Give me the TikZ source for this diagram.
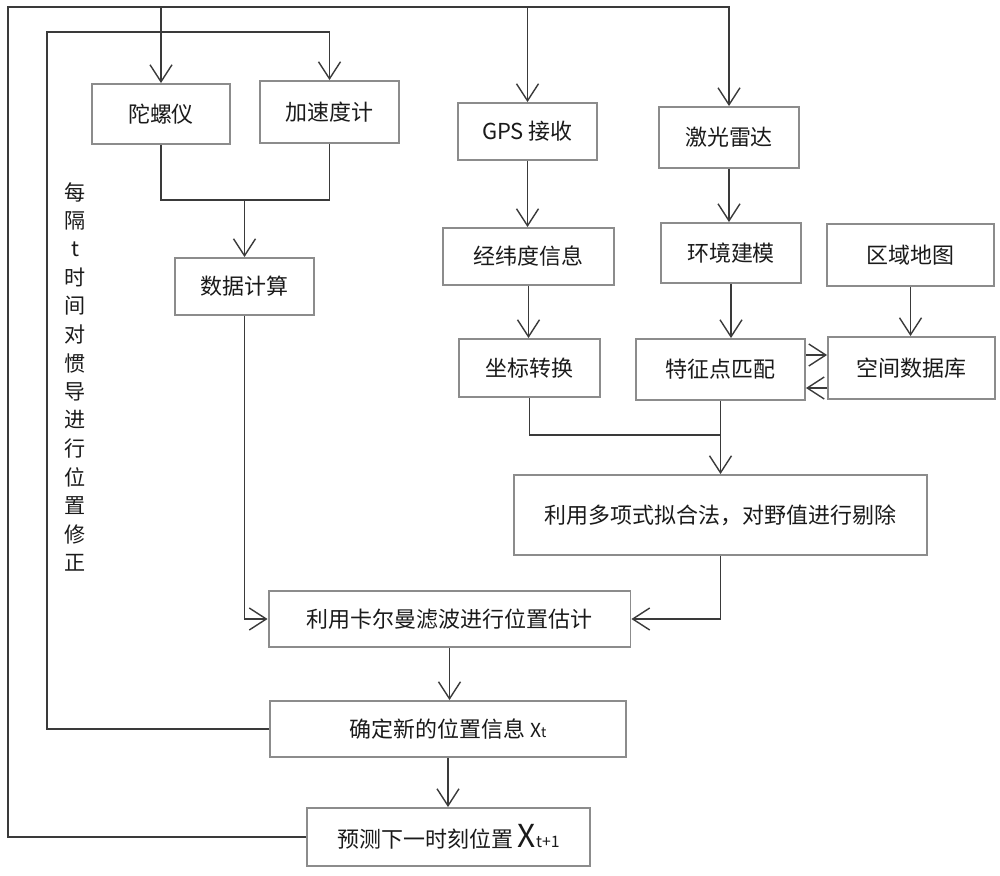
\documentclass[tikz,border=0pt]{standalone}
\usepackage{fontspec}
\setmainfont{Noto Sans CJK SC}
\usepackage{xcolor}
\definecolor{boxGray}{HTML}{8C8C8C}
\definecolor{lineDark}{HTML}{3A3A3A}
\definecolor{textDark}{HTML}{1A1A1A}
\usepackage{tikz}
\usetikzlibrary{arrows.meta}
\tikzset{
    box/.style={
        draw=boxGray,
        fill=white,
        rectangle,
        line width=1.1pt,
        align=center,
        inner sep=2pt,
        text=textDark,
        font=\fontsize{12.5}{15}\selectfont
    },
    line/.style={
        draw=lineDark,
        line width=0.8pt
    },
    arrow/.style={
        line,
        -{Straight Barb[length=0.34cm,width=0.44cm]}
    },
    vtext/.style={
        text=textDark,
        inner sep=0pt,
        font=\fontsize{12}{14}\selectfont
    }
}

\begin{document}
\begin{tikzpicture}[x=0.02cm, y=-0.02cm]
    \useasboundingbox (0,0) rectangle (1000,875);

    % Inertial sensors
    \node[box, minimum width=2.76cm, minimum height=1.20cm] (gyro) at (161,114) {陀螺仪};
    \node[box, minimum width=2.78cm, minimum height=1.24cm] (accel) at (329.5,112) {加速度计};
    \node[box, minimum width=2.78cm, minimum height=1.14cm] (calc) at (244.5,286.5) {数据计算};

    % GPS branch
    \node[box, minimum width=2.78cm, minimum height=1.14cm] (gps) at (527.5,131.5) {GPS 接收};
    \node[box, minimum width=3.42cm, minimum height=1.14cm] (latlon) at (528.5,256.5) {经纬度信息};
    \node[box, minimum width=2.82cm, minimum height=1.16cm] (coord) at (529.5,368) {坐标转换};

    % Lidar branch
    \node[box, minimum width=2.80cm, minimum height=1.22cm] (lidar) at (729,137.5) {激光雷达};
    \node[box, minimum width=2.80cm, minimum height=1.20cm] (envmod) at (731,253) {环境建模};
    \node[box, minimum width=3.38cm, minimum height=1.22cm] (feature) at (720.5,369.5) {特征点匹配};
    \node[box, minimum width=3.34cm, minimum height=1.24cm] (regmap) at (910.5,255) {区域地图};
    \node[box, minimum width=3.34cm, minimum height=1.24cm] (spatdb) at (911.5,368) {空间数据库};

    % Fusion
    \node[box, minimum width=8.26cm, minimum height=1.60cm] (fit) at (720.5,515) {利用多项式拟合法，对野值进行剔除};
    \node[box, minimum width=7.24cm, minimum height=1.12cm] (kalman) at (449.5,619) {利用卡尔曼滤波进行位置估计};
    \node[box, minimum width=7.12cm, minimum height=1.12cm] (update) at (448,729)
        {确定新的位置信息 {\fontsize{11}{11}\selectfont X}{\fontsize{8}{8}\selectfont t}};
    \node[box, minimum width=5.66cm, minimum height=1.16cm] (predict) at (448.5,837)
        {预测下一时刻位置 {\fontsize{18}{18}\selectfont X}{\fontsize{9}{9}\selectfont t+1}};

    % Vertical note
    \foreach \ch [count=\i from 0] in {每,隔,t,时,间,对,惯,导,进,行,位,置,修,正}
        \node[vtext] (note\i) at (75,192+28.5*\i) {\ch};

    % Outer loop
    \draw[arrow] (predict.west) -| (8,7) -| (lidar.north);
    \draw[arrow] (gyro.north |- 0,7) -- (gyro.north);
    \draw[arrow] (gps.north |- 0,7) -- (gps.north);

    % Inner loop
    \draw[arrow] (update.west) -| (47,32) -| (accel.north);

    % Sensors to calculation
    \draw[line] (gyro.south) |- (accel.south |- 0,200) -- (accel.south);
    \draw[arrow] (calc.north |- 0,200) -- (calc.north);
    \draw[arrow] (calc.south) |- (kalman.west);

    % GPS chain
    \draw[arrow] (gps.south) -- (gps.south |- latlon.north);
    \draw[arrow] (latlon.south) -- (latlon.south |- coord.north);

    % Lidar chain
    \draw[arrow] (lidar.south) -- (lidar.south |- envmod.north);
    \draw[arrow] (envmod.south) -- (envmod.south |- feature.north);
    \draw[arrow] (regmap.south) -- (regmap.south |- spatdb.north);
    \draw[arrow] (feature.east |- 0,355) -- (spatdb.west |- 0,355);
    \draw[arrow] (spatdb.west |- 0,388) -- (feature.east |- 0,388);

    % Merge and filter
    \draw[line] (coord.south) |- (fit.north |- 0,435);
    \draw[arrow] (feature.south -| fit.north) -- (fit.north);
    \draw[arrow] (fit.south) |- (kalman.east);
    \draw[arrow] (kalman.south) -- (kalman.south |- update.north);
    \draw[arrow] (update.south) -- (update.south |- predict.north);
\end{tikzpicture}
\end{document}
